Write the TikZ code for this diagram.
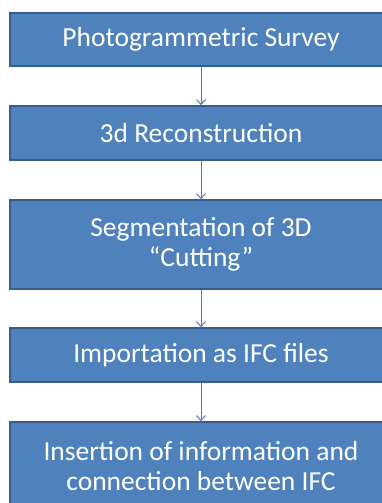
\documentclass[tikz,border=0pt]{standalone}
\usepackage{fontspec}
\setmainfont{Carlito}
\usetikzlibrary{arrows.meta}
\definecolor{boxfill}{HTML}{4F81BD}
\definecolor{boxline}{HTML}{385D8A}
\definecolor{arrowline}{HTML}{4A7EBB}
\tikzset{
  stepbox/.style={draw=boxline,line width=1.5pt,fill=boxfill,text=white,
    minimum width=382pt,align=center,inner sep=0pt,
    font=\fontsize{27.5}{30}\selectfont},
  flow/.style={draw=arrowline,line width=1pt,-{Straight Barb[length=5pt,width=9pt]}}
}
\begin{document}
\begin{tikzpicture}[x=1pt,y=1pt]
\useasboundingbox (0,0) rectangle (382,-503);
\clip (0,0) rectangle (382,-503);
\node [stepbox,minimum height=53pt] (survey) at (201,-39.5) {Photogrammetric Survey};
\node [stepbox,minimum height=54pt] (recon) at (201,-133) {3d Reconstruction};
\node [stepbox,minimum height=89pt] (segm) at (201,-244.5) {Segmentation of 3D\\``Cutting''};
\node [stepbox,minimum height=54pt] (import) at (201,-355) {Importation as IFC files};
\node [stepbox,minimum height=89pt] (insert) at (201,-466.5) {Insertion of information and\\connection between IFC};
\draw [flow] (survey) -- (recon);
\draw [flow] (recon) -- (segm);
\draw [flow] (segm) -- (import);
\draw [flow] (import) -- (insert);
\end{tikzpicture}
\end{document}
